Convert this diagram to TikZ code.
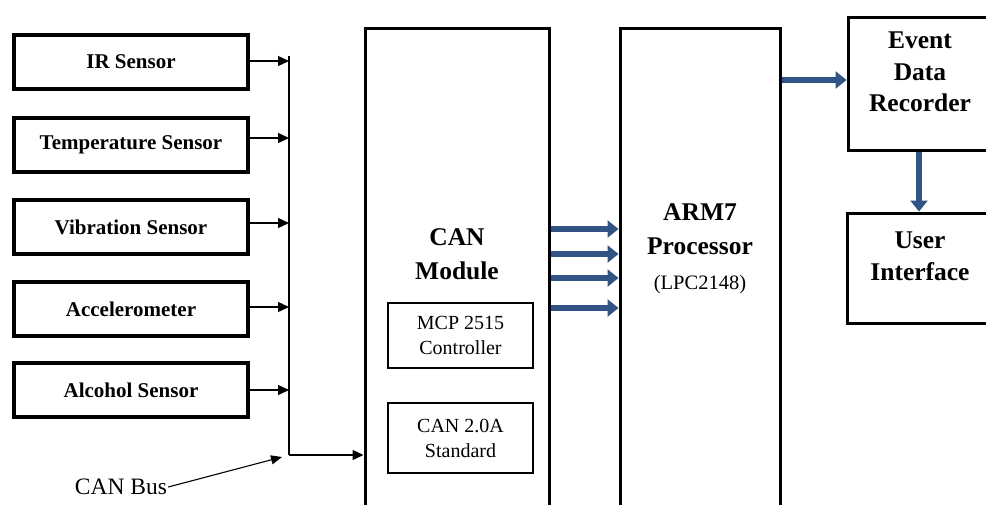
\documentclass[tikz,border=0pt]{standalone}
\usepackage{fontspec}
\setmainfont{Liberation Serif}
\usetikzlibrary{arrows.meta,calc}
\definecolor{arrblue}{RGB}{50,84,132}
\begin{document}
\begin{tikzpicture}[x=1pt,y=-1pt,
  sensor/.style={draw,line width=3.2pt,minimum width=234pt,minimum height=54pt,inner sep=0pt,font=\fontsize{21}{24}\selectfont\bfseries},
  bigbox/.style={draw,line width=3pt,inner sep=0pt},
  inbox/.style={draw,line width=1.3pt,inner sep=0pt,minimum width=145pt,align=center,font=\fontsize{20}{25}\selectfont},
  btxt/.style={align=center,font=\fontsize{25.5}{34}\selectfont\bfseries,inner sep=0pt},
  rtxt/.style={align=center,font=\fontsize{20.5}{26}\selectfont,inner sep=0pt},
  thinarr/.style={line width=1.3pt,-{Triangle[length=11pt,width=10pt]}},
  fatarr/.style={arrblue,line width=6.5pt,-{Triangle[length=11pt,width=17pt]}}
]
\clip (0,0) rectangle (986,504);
\fill[white] (0,0) rectangle (986,504);

% sensors
\node[sensor] (ir)   at (131,62)  {IR Sensor};
\node[sensor] (temp) at (131,145) {Temperature Sensor};
\node[sensor] (vib)  at (131,227) {Vibration Sensor};
\node[sensor] (acc)  at (131,309) {Accelerometer};
\node[sensor] (alc)  at (131,390) {Alcohol Sensor};

% big blocks
\node[bigbox,minimum width=184pt,minimum height=500pt] (can) at (457,278) {};
\node[bigbox,minimum width=160pt,minimum height=500pt] (arm) at (700,278) {};
\node[bigbox,minimum width=144pt,minimum height=133pt] (edr) at (920,83.5) {};
\node[bigbox,minimum width=145pt,minimum height=110pt] (ui)  at (919.5,268) {};

% texts in big blocks
\node[btxt] (cantxt) at (457,254) {CAN\\Module};
\node[btxt] (armtxt) at (700,229) {ARM7\\Processor};
\node[rtxt] (lpc) at (700,285) {(LPC2148)};
\node[btxt,font=\fontsize{25.5}{31.5}\selectfont\bfseries] (edrtxt) at (920,72) {Event\\Data\\Recorder};
\node[btxt,font=\fontsize{25.5}{32}\selectfont\bfseries] (uitxt) at (920,256) {User\\Interface};

% inner boxes
\node[inbox,minimum height=65pt] (mcp) at (460.5,335.5) {MCP 2515\\Controller};
\node[inbox,minimum height=70pt] (std) at (460.5,438) {CAN 2.0A\\Standard};

% bus
\coordinate (bt) at (289,56);
\coordinate (bb) at (289,455);
\coordinate (a1) at (289,61);
\coordinate (a2) at (289,138);
\coordinate (a3) at (289,223);
\coordinate (a4) at (289,307);
\coordinate (a5) at (289,390);
\draw[line width=1.3pt] (bt) -- (bb);
\draw[thinarr] (bb) -- (can.west |- bb);
\draw[thinarr] (ir.east |- a1) -- (a1);
\draw[thinarr] (temp.east |- a2) -- (a2);
\draw[thinarr] (vib.east |- a3) -- (a3);
\draw[thinarr] (acc.east |- a4) -- (a4);
\draw[thinarr] (alc.east |- a5) -- (a5);

% CAN Bus label
\node[font=\fontsize{23.5}{23.5}\selectfont,inner sep=1pt] (canbus) at (121,487) {CAN Bus};
\coordinate (cbt) at (282,457);
\draw[line width=1.1pt,-{Triangle[length=11pt,width=9pt]}] (canbus.east) -- (cbt);

% fat arrows CAN -> ARM
\coordinate (f1) at (551,229);
\coordinate (f2) at (551,254);
\coordinate (f3) at (551,278);
\coordinate (f4) at (551,308);
\draw[fatarr] (f1) -- (arm.west |- f1);
\draw[fatarr] (f2) -- (arm.west |- f2);
\draw[fatarr] (f3) -- (arm.west |- f3);
\draw[fatarr] (f4) -- (arm.west |- f4);

% ARM -> EDR -> UI
\coordinate (g1) at (780,80);
\draw[fatarr] (arm.east |- g1) -- (edr.west |- g1);
\coordinate (g2) at (919,150);
\draw[fatarr] (edr.south -| g2) -- (ui.north -| g2);
\end{tikzpicture}
\end{document}
